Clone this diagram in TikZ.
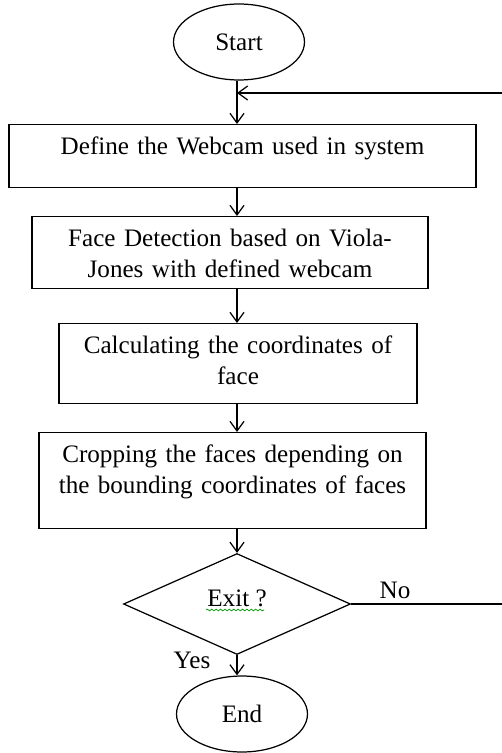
\documentclass[tikz,border=0pt]{standalone}
\usepackage{fontspec}
\setmainfont{Liberation Serif}
\usetikzlibrary{shapes.geometric, arrows.meta, decorations.pathmorphing}

\begin{document}
\begin{tikzpicture}[x=0.02cm, y=-0.02cm, line width=0.7pt,
    font=\fontsize{14.3}{17.4}\selectfont,
    terminal/.style={draw, ellipse, inner sep=0pt, minimum width=2.62cm, minimum height=1.52cm},
    process/.style={draw, rectangle, anchor=north, inner sep=0pt, align=center, text height=0.6cm},
    decision/.style={draw, diamond, inner sep=0pt, minimum width=4.54cm, minimum height=2.02cm, text depth=6.6pt},
    flow/.style={-{Straight Barb[length=5.5pt,width=8pt]}},
    spell/.style={green!60!black, line width=0.4pt, decorate,
      decoration={snake, amplitude=0.5pt, segment length=2.5pt}}]
    \useasboundingbox (0,0) rectangle (501,753);

    \node[terminal] (start) at (239,42) {Start};
    \node[process, text width=9.34cm, text depth=0.66cm] (define) at (242.5,124) {Define the Webcam used in system};
    \node[process, text width=7.92cm, text depth=0.84cm] (detect) at (230,216) {Face Detection based on Viola-\\Jones with defined webcam};
    \node[process, text width=7.16cm, text depth=1.0cm] (coords) at (238,323) {Calculating the coordinates of\\face};
    \node[process, text width=7.74cm, text depth=1.32cm] (crop) at (232.5,432) {Cropping the faces depending on\\the bounding coordinates of faces};
    \node[decision] (exit) at (237,604) {Exit ?};
    \node[terminal] (stop) at (242,714) {End};

    \node (no) at (395,590) {No};
    \node (yes) at (192,660) {Yes};

    \coordinate (join) at (237,93);
    \coordinate (back) at (506,604);

    \draw[flow] (start.south -| join) -- (define.north -| join);
    \draw[flow] (define.south -| join) -- (detect.north -| join);
    \draw[flow] (detect.south -| join) -- (coords.north -| join);
    \draw[flow] (coords.south -| join) -- (crop.north -| join);
    \draw[flow] (crop.south -| join) -- (exit.north);
    \draw[flow] (exit.south) -- (stop.north -| exit.south);
    \draw[flow] (exit.east) -- (back) |- (join);
    \draw[spell] ([shift={(-31,6)}]exit.center) -- ([shift={(27,6)}]exit.center);
\end{tikzpicture}
\end{document}
